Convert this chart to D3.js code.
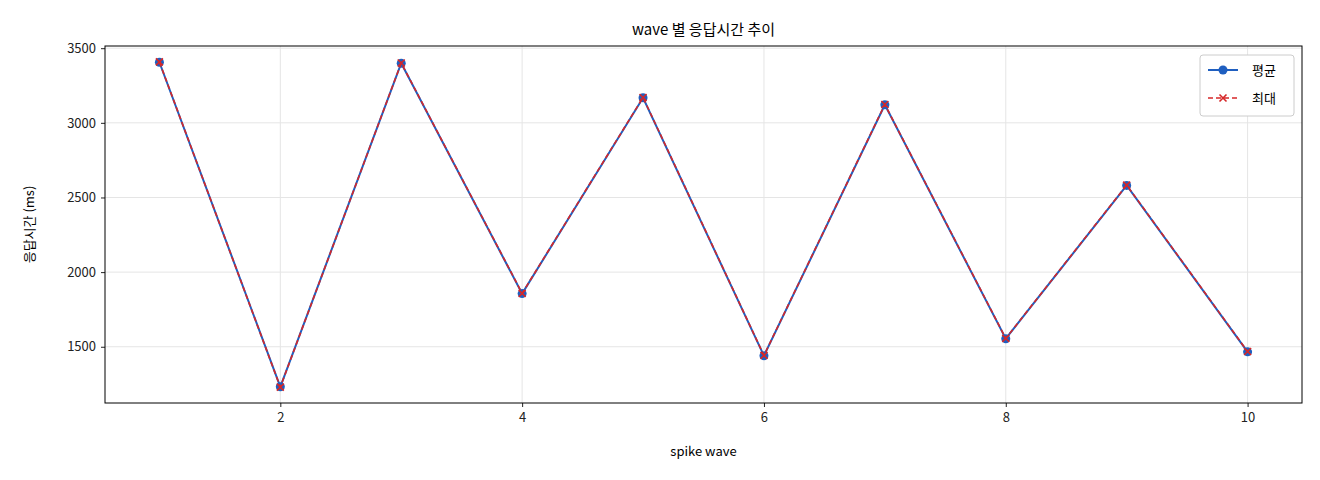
<!DOCTYPE html>
<html><head><meta charset="utf-8">
<script src="https://cdn.jsdelivr.net/npm/d3@7"></script>
<style>body{margin:0;background:#fff}text{font-family:"Noto Sans CJK KR","DejaVu Sans",sans-serif}</style>
</head><body><svg id="c" width="1320" height="480"></svg>
<script>
const waves=[1,2,3,4,5,6,7,8,9,10];
const avgValues=[3406,1232,3399,1856,3168,1440,3121,1554,2581,1466];
const maxValues=[3408,1230,3401,1858,3170,1442,3123,1556,2583,1468];
const xTicks=[2,4,6,8,10];
const yTicks=[1500,2000,2500,3000,3500];
const svg=d3.select("#c");
const L=105,R=1302,T=46,B=403;
const x=d3.scaleLinear().domain([0.55,10.45]).range([L,R]);
const y=d3.scaleLinear().domain([1123.3,3514.7]).range([B,T]);
const g=svg.append("g");
g.selectAll(".gx").data(xTicks).join("line").attr("x1",d=>x(d)).attr("x2",d=>x(d)).attr("y1",T).attr("y2",B).attr("stroke","#e5e5e5");
g.selectAll(".gy").data(yTicks).join("line").attr("y1",d=>y(d)).attr("y2",d=>y(d)).attr("x1",L).attr("x2",R).attr("stroke","#e5e5e5");
const xa=svg.append("g").attr("transform",`translate(0,${B})`).call(d3.axisBottom(x).tickValues(xTicks).tickFormat(d3.format("d")).tickSize(4).tickPadding(6));
const ya=svg.append("g").attr("transform",`translate(${L},0)`).call(d3.axisLeft(y).tickValues(yTicks).tickFormat(d3.format("d")).tickSize(4).tickPadding(5));
[xa,ya].forEach(a=>{a.select(".domain").remove();a.selectAll("text").attr("font-size",13).attr("fill","#222").style("font-family","'Noto Sans CJK KR',sans-serif");a.selectAll("line").attr("stroke","#222")});
svg.append("rect").attr("x",L).attr("y",T).attr("width",R-L).attr("height",B-T).attr("fill","none").attr("stroke","#000");
const line=d3.line().x((d,i)=>x(waves[i])).y(d=>y(d));
svg.append("path").datum(avgValues).attr("d",line).attr("fill","none").attr("stroke","#1f5fc0").attr("stroke-width",2);
svg.selectAll(".p").data(avgValues).join("circle").attr("cx",(d,i)=>x(waves[i])).attr("cy",d=>y(d)).attr("r",4.5).attr("fill","#1f5fc0");
svg.append("path").datum(maxValues).attr("d",line).attr("fill","none").attr("stroke","#d62728").attr("stroke-width",1.6).attr("stroke-dasharray","5,3");
const xm=(cx,cy,s)=>`M${cx-s},${cy-s}L${cx+s},${cy+s}M${cx-s},${cy+s}L${cx+s},${cy-s}`;
svg.selectAll(".m").data(maxValues).join("path").attr("d",(d,i)=>xm(x(waves[i]),y(d),3.5)).attr("stroke","#d62728").attr("stroke-width",1.6);
svg.append("text").attr("x",(L+R)/2).attr("y",35).attr("text-anchor","middle").attr("font-size",15).text("wave 별 응답시간 추이");
svg.append("text").attr("x",(L+R)/2).attr("y",456).attr("text-anchor","middle").attr("font-size",13).text("spike wave");
svg.append("text").attr("transform",`translate(34,${(T+B)/2}) rotate(-90)`).attr("text-anchor","middle").attr("font-size",13).text("응답시간 (ms)");
const lg=svg.append("g").attr("transform","translate(1200,55)");
lg.append("rect").attr("width",94).attr("height",61).attr("rx",3).attr("fill","#fff").attr("stroke","#ccc");
lg.append("line").attr("x1",8).attr("x2",38).attr("y1",15).attr("y2",15).attr("stroke","#1f5fc0").attr("stroke-width",2);
lg.append("circle").attr("cx",23).attr("cy",15).attr("r",4.5).attr("fill","#1f5fc0");
lg.append("text").attr("x",52).attr("y",20).attr("font-size",13).text("평균");
lg.append("line").attr("x1",8).attr("x2",38).attr("y1",43).attr("y2",43).attr("stroke","#d62728").attr("stroke-width",1.6).attr("stroke-dasharray","5,3");
lg.append("path").attr("d",xm(23,43,3.5)).attr("stroke","#d62728").attr("stroke-width",1.6);
lg.append("text").attr("x",52).attr("y",48).attr("font-size",13).text("최대");
</script></body></html>
